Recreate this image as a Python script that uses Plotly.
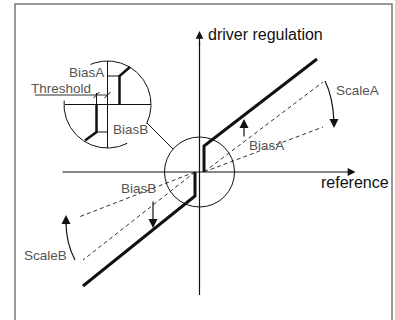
import numpy as np
import plotly.graph_objects as go

# characteristic curve, units = diagram units (origin at the axis crossing)
branch_a_x = [4.5, 4.5, 117.5]
branch_a_y = [0, 26, 113]
branch_b_x = [-4.5, -4.5, -116.5]
branch_b_y = [0, -24, -114]

# dashed reference lines (before bias / scale)
dash_a_x = [4.5, 123.5]
dash_a_hi = [0, 90]
dash_a_lo = [0, 45]
dash_b_x_hi = [-4.5, -120.5]
dash_b_hi = [0, -45]
dash_b_x_lo = [-4.5, -116.5]
dash_b_lo = [0, -88]

# magnified inset
inset_c = (-92, 67.5)
inset_r = 43.5
inset_arcs = [(-26, 113), (175, 297)]
inset_a_x = [-80, -80, -69.5]
inset_a_y = [67.5, 96, 105]
inset_b_x = [-103, -103, -114.5]
inset_b_y = [67.5, 40, 31.5]

labels = ["driver regulation", "reference", "ScaleA", "BiasA", "BiasB", "ScaleB",
          "Threshold", "BiasA", "BiasB"]
label_x = [7, 190.5, 135.5, 48.5, -79.5, -176.5, -169.5, -131.5, -87.5]
label_y = [138, -10.5, 82, 26.5, -16.5, -83, 84, 100, 43]

BLACK = "#111111"
GREY = "#555555"

fig = go.Figure()


def line(x, y, w=1.2, color=BLACK, dash="solid"):
    fig.add_trace(go.Scatter(x=x, y=y, mode="lines", hoverinfo="skip", showlegend=False,
                             line=dict(color=color, width=w, dash=dash)))


# axes
line([-137, 150], [0, 0])
line([0, 0], [-123, 130])

# dashed lines
for xs, ys in [(dash_a_x, dash_a_hi), (dash_a_x, dash_a_lo),
               (dash_b_x_hi, dash_b_hi), (dash_b_x_lo, dash_b_lo)]:
    line(xs, ys, w=1, color="#333333", dash="4px,3px")

# characteristic
line(branch_a_x, branch_a_y, w=3)
line(branch_b_x, branch_b_y, w=3)

# inset
cx, cy = inset_c
line([cx - 42.5, cx + 43.5], [cy, cy], w=1)
line([cx, cx], [cy + 43.5, cy - 43.5], w=1)
for a0, a1 in inset_arcs:
    t = np.radians(np.linspace(a0, a1, 80))
    line(cx + inset_r * np.cos(t), cy + inset_r * np.sin(t), w=1)
line(inset_a_x, inset_a_y, w=2.5)
line(inset_b_x, inset_b_y, w=2.5)
line([cx, inset_a_x[0]], [inset_a_y[1]] * 2, w=1)
line([inset_b_x[0], cx], [inset_b_y[1]] * 2, w=1)
# threshold dimension
line([inset_b_x[0]] * 2, [cy, 79], w=1)
line([-164.5, cx], [77, 77], w=1, color="#333333")
for sx in [inset_b_x[0], cx]:
    line([sx - 3, sx + 3], [74, 80], w=1)

# small circle and leader
fig.add_shape(type="circle", x0=-35, x1=35, y0=-35, y1=35,
              line=dict(color=BLACK, width=1))
line([-52.5, -26.5], [49, 23], w=1)

# curved scale arrows
fig.add_shape(type="path", path="M 125.5 91 Q 133.5 75 134.5 50",
              line=dict(color=BLACK, width=1.2))
fig.add_shape(type="path", path="M -124.5 -88 Q -133.5 -71 -133.5 -50",
              line=dict(color=BLACK, width=1.2))

arrows = [
    (148, 0, 156, 0, 1.3),      # reference axis
    (0, 125, 0, 141, 1.3),      # driver axis
    (134.5, 54, 134.5, 44, 1.5),
    (-133.5, -54, -133.5, -43, 1.5),
    (44.5, 34, 44.5, 53, 1.5),  # BiasA
    (-46.5, -28, -46.5, -56, 1.5),  # BiasB
]
for ax, ay, x, y, s in arrows:
    fig.add_annotation(x=x, y=y, ax=ax, ay=ay, xref="x", yref="y", axref="x", ayref="y",
                       text="", showarrow=True, arrowhead=2, arrowsize=s,
                       arrowwidth=1.2, arrowcolor=BLACK)

for i, (txt, x, y) in enumerate(zip(labels, label_x, label_y)):
    big = i < 2
    fig.add_annotation(x=x, y=y, text=txt, showarrow=False, xanchor="right" if i == 1 else "left",
                       yanchor="middle", borderpad=0,
                       font=dict(family="Liberation Sans, Arial", size=16 if big else 13.5,
                                 color=BLACK if big else GREY))

# frame
fig.add_shape(type="rect", x0=-184.5, x1=192.5, y0=-160, y1=168,
              line=dict(color="#777777", width=1.5))

fig.update_layout(width=395, height=320, margin=dict(l=0, r=0, t=0, b=0),
                  paper_bgcolor="white", plot_bgcolor="white",
                  xaxis=dict(range=[-199.5, 195.5], visible=False, fixedrange=True),
                  yaxis=dict(range=[-148, 172], visible=False, fixedrange=True))

fig.write_html("out.html", config={"displayModeBar": False},
               post_script="document.body.style.margin='0';document.body.style.overflow='hidden';")
